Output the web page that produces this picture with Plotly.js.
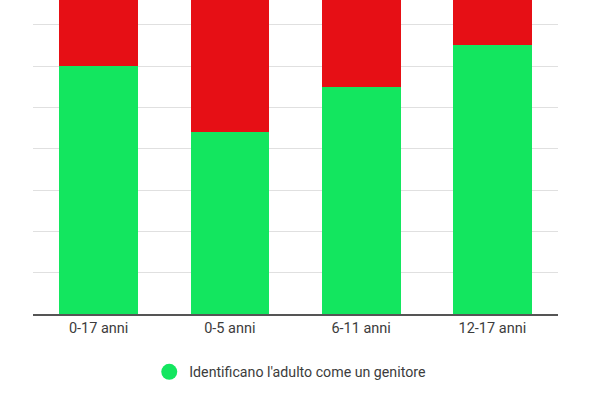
<!DOCTYPE html>
<html>
<head>
<meta charset="utf-8">
<script src="https://cdn.plot.ly/plotly-3.0.1.min.js"></script>
<style>
  html, body { margin: 0; padding: 0; background: #fff; }
  #chart { width: 600px; height: 400px; }
</style>
</head>
<body>
<div id="chart"></div>
<script>
var categories = ['0-17 anni', '0-5 anni', '6-11 anni', '12-17 anni'];
var genitore = [60, 44, 55, 65];
var altro = [40, 56, 45, 35];

var green = '#13e65f';
var red = '#e60f15';

var traces = [
  {
    type: 'bar',
    x: categories,
    y: genitore,
    name: "Identificano l'adulto come un genitore",
    marker: { color: green },
    showlegend: false,
    hoverinfo: 'x+y'
  },
  {
    type: 'bar',
    x: categories,
    y: altro,
    name: "Non identificano l'adulto come un genitore",
    marker: { color: red },
    showlegend: false,
    hoverinfo: 'x+y'
  },
  // legend entry with a round marker
  {
    type: 'scatter',
    mode: 'markers',
    x: [null],
    y: [null],
    name: "Identificano l'adulto come un genitore",
    marker: { color: green, size: 18, symbol: 'circle' },
    showlegend: true
  }
];

var layout = {
  width: 600,
  height: 400,
  barmode: 'stack',
  bargap: 0.4,
  margin: { l: 33, r: 42, t: 0, b: 86 },
  paper_bgcolor: '#fff',
  plot_bgcolor: '#fff',
  font: { family: 'Roboto, sans-serif', size: 13, color: '#444' },
  xaxis: {
    showline: true,
    linecolor: '#555',
    linewidth: 2,
    ticks: '',
    showgrid: false,
    tickfont: { size: 14.5, color: '#3c3c3c' },
    fixedrange: true
  },
  yaxis: {
    range: [0, 76],
    dtick: 10,
    showgrid: true,
    gridcolor: '#e0e0e0',
    gridwidth: 1,
    showticklabels: false,
    zeroline: false,
    fixedrange: true
  },
  showlegend: true,
  legend: {
    orientation: 'h',
    x: 0.49,
    xanchor: 'center',
    y: -0.185,
    yanchor: 'middle',
    font: { size: 14.2, color: '#3c3c3c' }
  }
};

Plotly.newPlot('chart', traces, layout, { displayModeBar: false, staticPlot: true });
</script>
</body>
</html>
